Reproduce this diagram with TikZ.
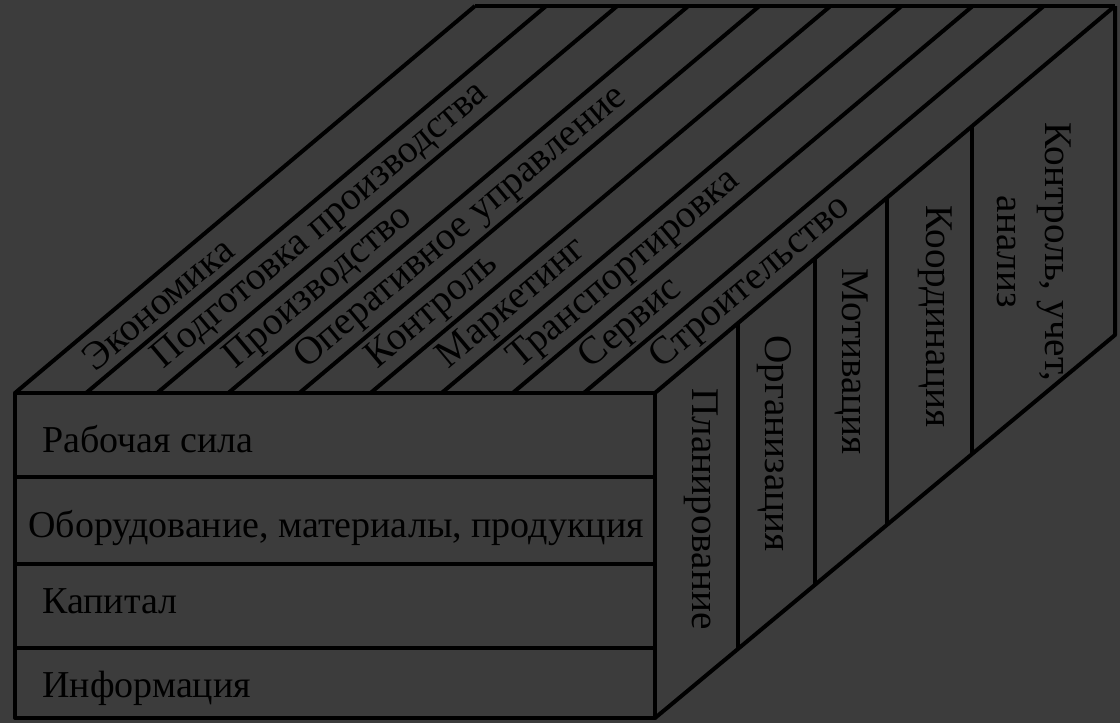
\documentclass[tikz,border=0pt]{standalone}
\usepackage{fontspec}
\setmainfont{Liberation Serif}
\usetikzlibrary{calc}
\definecolor{bggray}{RGB}{60,60,60}

\begin{document}
\begin{tikzpicture}[x=0.5pt,y=-0.5pt,
    edge/.style={line width=2pt, line join=round},
    txt/.style={font=\fontsize{19}{24}\selectfont, inner sep=0pt, text=black},
    toplabel/.style={txt, font=\fontsize{19.6}{24}\selectfont, rotate=40, anchor=west},
    sidelabel/.style={txt, font=\fontsize{19.6}{24}\selectfont, rotate=-90, anchor=west, align=center}]
    \fill[bggray] (0,0) rectangle (1120,723);

    % corners of the box
    \coordinate (ftl) at (15,393);
    \coordinate (ftr) at (655,393);
    \coordinate (fbr) at (655,718);
    \coordinate (fbl) at (15,718);
    \coordinate (btr) at (1115,6);
    \coordinate (bbr) at (1115,335);

    % front face
    \draw[edge] (ftl) rectangle (fbr);
    \draw[edge] (15,477) -- (655,477);
    \draw[edge] (15,564) -- (655,564);
    \draw[edge] (15,648) -- (655,648);

    \node[txt, anchor=base west] (labour) at (42,452) {Рабочая сила};
    \node[txt, anchor=base west] (equip) at (28,537) {Оборудование, материалы, продукция};
    \node[txt, anchor=base west] (capital) at (42,613) {Капитал};
    \node[txt, anchor=base west] (info) at (42,697) {Информация};

    % top face
    \foreach \i in {0,...,9}
        \draw[edge] ({15+71.1*\i},393) -- ++(460,-387);
    \draw[edge] (475,6) -- (btr);

    \foreach \t [count=\i from 0] in {Экономика, Подготовка производства,
            Производство, Оперативное управление, Контроль, Маркетинг,
            Транспортировка, Сервис, Строительство}
        \node[toplabel] (top\i) at ({87+71.1*\i},363) {\t};

    % right face
    \draw[edge] (btr) -- (bbr) -- (fbr);
    \foreach \f in {0.18,0.348,0.504,0.689}
        \draw[edge] ($(ftr)!\f!(btr)$) -- ($(fbr)!\f!(bbr)$);

    \node[sidelabel] (plan) at (701,388) {Планирование};
    \node[sidelabel] (org) at (774,335) {Организация};
    \node[sidelabel] (motiv) at (852,268) {Мотивация};
    \node[sidelabel] (coord) at (935,205) {Координация};
    \node[sidelabel] (ctrl) at (1034,122) {Контроль, учет,\\анализ};
\end{tikzpicture}
\end{document}
